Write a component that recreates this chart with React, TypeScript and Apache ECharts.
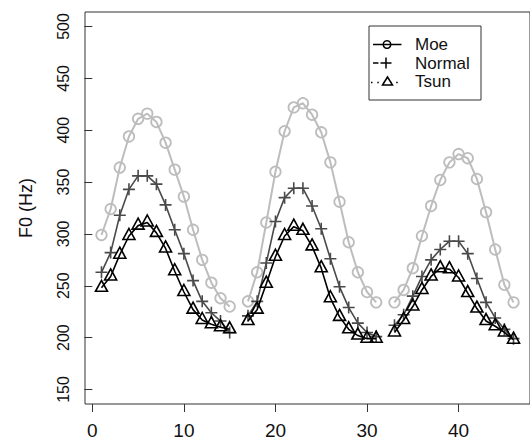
import React, { useEffect, useRef } from "react";
import * as echarts from "echarts";

const xTicks = [0, 10, 20, 30, 40];
const yTicks = [150, 200, 250, 300, 350, 400, 450, 500];
const yTitle = "F0 (Hz)";
const seriesNames = ["Moe", "Normal", "Tsun"];

// x positions are 1..46; null marks the gaps between phrases (x = 16, 32)
const moe = [
  299, 324, 364, 394, 411, 416, 408, 388, 362, 336, 304, 275, 253, 238, 230, null,
  235, 263, 311, 360, 399, 422, 426, 415, 398, 369, 331, 292, 263, 244, 234, null,
  234, 246, 267, 298, 327, 352, 369, 377, 373, 353, 321, 285, 251, 234,
];
const normal = [
  263, 282, 318, 343, 356, 356, 348, 328, 304, 281, 255, 235, 224, 216, 205, null,
  221, 235, 272, 312, 335, 344, 344, 327, 305, 276, 249, 229, 214, 205, 201, null,
  212, 222, 240, 259, 275, 285, 293, 293, 281, 257, 234, 219, 208, 199,
];
const tsun = [
  248, 259, 280, 298, 308, 311, 301, 286, 264, 244, 227, 217, 213, 210, 208, null,
  216, 227, 252, 278, 298, 307, 303, 288, 267, 238, 220, 208, 202, 199, 199, null,
  205, 217, 230, 246, 259, 267, 266, 258, 243, 228, 216, 211, 205, 198,
];

const FONT = "Liberation Sans, Arial, Helvetica, sans-serif";
const MOE_C = "#bdbdbd";
const NORMAL_C = "#4a4a4a";
const TSUN_C = "#000000";
const PLUS = "path://M5,0 L5,10 M0,5 L10,5";

const pairs = (arr: (number | null)[]) => arr.map((v, i) => [i + 1, v]);

export default function App() {
  const ref = useRef<HTMLDivElement>(null);
  useEffect(() => {
    if (!ref.current) return;
    const chart = echarts.init(ref.current, undefined, { renderer: "svg" });
    const lx = 369, ly = 26, lw = 112, lh = 74;
    const rowY = [44.5, 63, 81.5];
    const option: any = {
      animation: false,
      backgroundColor: "#ffffff",
      grid: {
        left: 85, top: 12, width: 448.5, height: 392,
        show: true, borderColor: "#333", borderWidth: 1, backgroundColor: "transparent",
      },
      xAxis: {
        type: "value", min: -0.8, max: 47.8,
        axisLine: { show: false }, splitLine: { show: false },
        axisTick: { show: true, length: 8, lineStyle: { color: "#333", width: 1 }, customValues: xTicks },
        axisLabel: { customValues: xTicks, fontSize: 19, color: "#111", margin: 17, fontFamily: FONT },
      },
      yAxis: {
        type: "value", min: 136, max: 514,
        axisLine: { show: false }, splitLine: { show: false },
        axisTick: { show: true, length: 8, lineStyle: { color: "#333", width: 1 }, customValues: yTicks },
        axisLabel: { customValues: yTicks, fontSize: 16, color: "#111", margin: 14, rotate: 90, fontFamily: FONT },
        name: yTitle, nameLocation: "middle", nameRotate: 90, nameGap: 50,
        nameTextStyle: { fontSize: 18, color: "#111", fontFamily: FONT },
      },
      series: [
        {
          type: "line", name: seriesNames[0], data: pairs(moe), connectNulls: false,
          symbol: "circle", symbolSize: 10.5, showAllSymbol: true, z: 2,
          lineStyle: { color: MOE_C, width: 2 },
          itemStyle: { color: "transparent", borderColor: MOE_C, borderWidth: 1.8 },
          emphasis: { disabled: true },
        },
        {
          type: "line", name: seriesNames[1], data: pairs(normal), connectNulls: false,
          symbol: PLUS, symbolSize: 12, showAllSymbol: true, z: 3,
          lineStyle: { color: NORMAL_C, width: 1.6 },
          itemStyle: { color: "transparent", borderColor: NORMAL_C, borderWidth: 1.6 },
          emphasis: { disabled: true },
        },
        {
          type: "line", name: seriesNames[2], data: pairs(tsun), connectNulls: false,
          symbol: "triangle", symbolSize: [12, 11], symbolOffset: [0, -2], showAllSymbol: true, z: 4,
          lineStyle: { color: TSUN_C, width: 1.6 },
          itemStyle: { color: "transparent", borderColor: TSUN_C, borderWidth: 1.6 },
          emphasis: { disabled: true },
        },
      ],
      graphic: [
        {
          type: "group", z: 100,
          children: [
            { type: "rect", shape: { x: lx, y: ly, width: lw, height: lh }, style: { fill: "#fff", stroke: "#333", lineWidth: 1 } },
            // Moe: solid line + circle
            { type: "line", shape: { x1: 373, y1: rowY[0], x2: 401.5, y2: rowY[0] }, style: { stroke: "#000", lineWidth: 1.5 } },
            { type: "circle", shape: { cx: 387, cy: rowY[0], r: 3.8 }, style: { fill: "none", stroke: "#000", lineWidth: 1.5 } },
            // Normal: dashed line + plus
            { type: "line", shape: { x1: 373, y1: rowY[1], x2: 378.5, y2: rowY[1] }, style: { stroke: "#000", lineWidth: 1.5 } },
            { type: "line", shape: { x1: 380.5, y1: rowY[1], x2: 391.5, y2: rowY[1] }, style: { stroke: "#000", lineWidth: 1.5 } },
            { type: "line", shape: { x1: 386, y1: rowY[1] - 5.5, x2: 386, y2: rowY[1] + 5.5 }, style: { stroke: "#000", lineWidth: 1.5 } },
            // Tsun: dotted line + triangle
            { type: "line", shape: { x1: 371, y1: rowY[2] + 1, x2: 401, y2: rowY[2] + 1 }, style: { stroke: "#000", lineWidth: 1.5, lineDash: [1.5, 4.8] } },
            { type: "polygon", shape: { points: [[387.5, rowY[2] - 4.5], [382.5, rowY[2] + 3.5], [392.5, rowY[2] + 3.5]] }, style: { fill: "#fff", stroke: "#000", lineWidth: 1.5 } },
            { type: "text", x: 415, y: rowY[0], style: { text: seriesNames[0], fontSize: 17, lineHeight: 17, fontFamily: FONT, fill: "#111", verticalAlign: "middle" } },
            { type: "text", x: 415, y: rowY[1], style: { text: seriesNames[1], fontSize: 17, lineHeight: 17, fontFamily: FONT, fill: "#111", verticalAlign: "middle" } },
            { type: "text", x: 415, y: rowY[2], style: { text: seriesNames[2], fontSize: 17, lineHeight: 17, fontFamily: FONT, fill: "#111", verticalAlign: "middle" } },
          ],
        },
      ],
    };
    chart.setOption(option);
    return () => chart.dispose();
  }, []);
  return (
    <div
      ref={ref}
      style={{ position: "absolute", left: 0, top: 0, width: 530, height: 440, overflow: "hidden", background: "#fff" }}
    />
  );
}
